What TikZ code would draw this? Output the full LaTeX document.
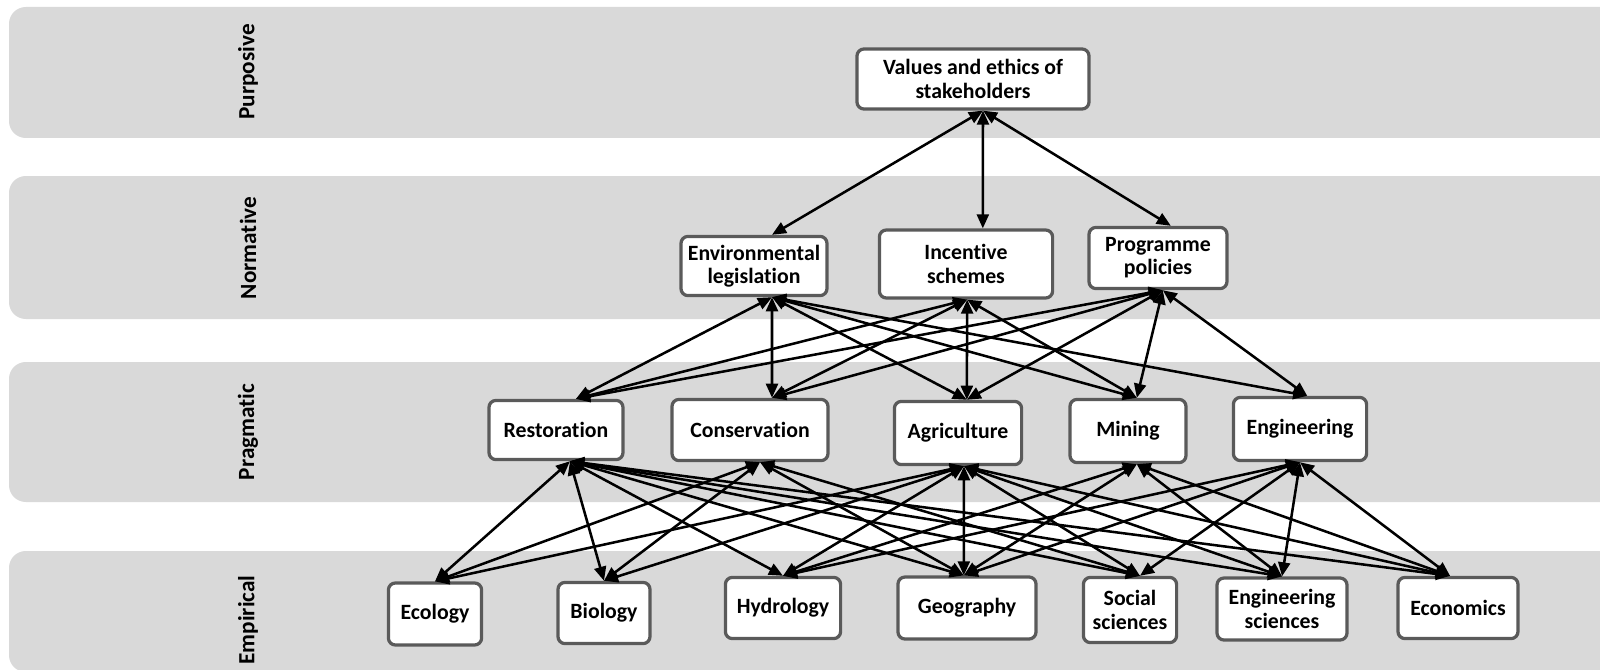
\documentclass[tikz,border=0pt]{standalone}
\usepackage{fontspec}
\setmainfont{Carlito}[Ligatures=NoCommon]
\usepackage{xcolor}
\usepackage{tikz}
\usetikzlibrary{arrows.meta,positioning}
\definecolor{bandgray}{RGB}{217,217,217}
\definecolor{boxgray}{RGB}{90,90,90}

\begin{document}
\begin{tikzpicture}[
    x=0.025cm, y=-0.025cm,
    box/.style={rectangle, draw=boxgray, line width=2.3pt, fill=white, rounded corners=5pt, align=center, inner sep=2pt, font=\fontsize{15.5}{16.5}\selectfont\bfseries},
    band/.style={fill=bandgray, rounded corners=12pt},
    level/.style={rotate=90, font=\fontsize{16.5}{17}\selectfont\bfseries},
    arrow/.style={{Triangle[length=10pt,width=8.5pt]}-{Triangle[length=10pt,width=8.5pt]}, line width=1.8pt}
]

\useasboundingbox (0,0) rectangle (1600,670);

\fill[band] (9,7) rectangle (1640,138);
\fill[band] (9,176) rectangle (1640,319);
\fill[band] (9,362) rectangle (1640,502);
\fill[band] (9,551) rectangle (1640,672);

\node[level] (purposive) at (248,72) {Purposive};
\node[level] (normative) at (248,248) {Normative};
\node[level] (pragmatic) at (248,432) {Pragmatic};
\node[level] (empirical) at (248,620) {Empirical};

\node[box, minimum width=5.8cm, minimum height=1.5cm] (values) at (973,79) {Values and ethics of\\stakeholders};

\node[box, minimum width=3.65cm, minimum height=1.48cm] (envleg) at (754,266) {Environmental\\legislation};
\node[box, minimum width=4.33cm, minimum height=1.7cm] (incent) at (966,264) {Incentive\\schemes};
\node[box, minimum width=3.45cm, minimum height=1.53cm] (progpol) at (1158,258) {Programme\\policies};

\node[box, minimum width=3.35cm, minimum height=1.48cm] (restor) at (556,430) {Restoration};
\node[box, minimum width=3.9cm, minimum height=1.53cm] (conserv) at (750,430) {Conservation};
\node[box, minimum width=3.18cm, minimum height=1.58cm] (agri) at (958,433) {Agriculture};
\node[box, minimum width=2.9cm, minimum height=1.58cm] (mining) at (1128,431) {Mining};
\node[box, minimum width=3.33cm, minimum height=1.58cm] (engin) at (1300,429) {Engineering};

\node[box, minimum width=2.33cm, minimum height=1.55cm] (ecol) at (435,614) {Ecology};
\node[box, minimum width=2.3cm, minimum height=1.53cm] (biol) at (604,613) {Biology};
\node[box, minimum width=2.88cm, minimum height=1.53cm] (hydro) at (783,608) {Hydrology};
\node[box, minimum width=3.45cm, minimum height=1.55cm] (geog) at (967,608) {Geography};
\node[box, minimum width=2.33cm, minimum height=1.63cm] (social) at (1130,610) {Social\\sciences};
\node[box, minimum width=3.25cm, minimum height=1.55cm] (engsci) at (1282,609) {Engineering\\sciences};
\node[box, minimum width=3.0cm, minimum height=1.53cm] (econ) at (1458,608) {Economics};

\coordinate (valuesS) at ([xshift=0.25cm]values.south);
\coordinate (envlegN) at ([xshift=0.45cm]envleg.north);
\coordinate (envlegS) at ([xshift=0.45cm]envleg.south);
\coordinate (incentN) at ([xshift=0.42cm]incent.north);
\coordinate (incentS) at ([xshift=0.03cm]incent.south);
\coordinate (progpolN) at ([xshift=0.32cm]progpol.north);
\coordinate (progpolS) at ([xshift=0.12cm]progpol.south);
\coordinate (restorN) at ([xshift=0.5cm]restor.north);
\coordinate (restorS) at ([xshift=0.35cm]restor.south);
\coordinate (conservN) at ([xshift=0.55cm]conserv.north);
\coordinate (conservS) at ([xshift=0.25cm]conserv.south);
\coordinate (agriN) at ([xshift=0.22cm]agri.north);
\coordinate (agriS) at ([xshift=0.15cm]agri.south);
\coordinate (miningN) at ([xshift=0.22cm]mining.north);
\coordinate (miningS) at ([xshift=0.22cm]mining.south);
\coordinate (enginN) at ([xshift=0.18cm]engin.north);
\coordinate (enginS) at (engin.south);
\coordinate (ecolN) at (ecol.north);
\coordinate (biolN) at (biol.north);
\coordinate (hydroN) at (hydro.north);
\coordinate (geogN) at ([xshift=-0.08cm]geog.north);
\coordinate (socialN) at ([xshift=0.25cm]social.north);
\coordinate (engsciN) at (engsci.north);
\coordinate (econN) at ([xshift=-0.2cm]econ.north);

\draw[arrow] (valuesS) -- (envlegN);
\draw[arrow] (valuesS) -- (incentN);
\draw[arrow] (valuesS) -- (progpolN);

\draw[arrow] (envlegS) -- (restorN);
\draw[arrow] (envlegS) -- (conservN);
\draw[arrow] (envlegS) -- (agriN);
\draw[arrow] (envlegS) -- (miningN);
\draw[arrow] (envlegS) -- (enginN);
\draw[arrow] (incentS) -- (restorN);
\draw[arrow] (incentS) -- (conservN);
\draw[arrow] (incentS) -- (agriN);
\draw[arrow] (incentS) -- (miningN);
\draw[arrow] (progpolS) -- (restorN);
\draw[arrow] (progpolS) -- (conservN);
\draw[arrow] (progpolS) -- (agriN);
\draw[arrow] (progpolS) -- (miningN);
\draw[arrow] (progpolS) -- (enginN);

\draw[arrow] (restorS) -- (ecolN);
\draw[arrow] (restorS) -- (biolN);
\draw[arrow] (restorS) -- (hydroN);
\draw[arrow] (restorS) -- (geogN);
\draw[arrow] (restorS) -- (socialN);
\draw[arrow] (restorS) -- (engsciN);
\draw[arrow] (restorS) -- (econN);
\draw[arrow] (conservS) -- (ecolN);
\draw[arrow] (conservS) -- (biolN);
\draw[arrow] (conservS) -- (geogN);
\draw[arrow] (conservS) -- (socialN);
\draw[arrow] (agriS) -- (ecolN);
\draw[arrow] (agriS) -- (biolN);
\draw[arrow] (agriS) -- (hydroN);
\draw[arrow] (agriS) -- (geogN);
\draw[arrow] (agriS) -- (socialN);
\draw[arrow] (agriS) -- (engsciN);
\draw[arrow] (agriS) -- (econN);
\draw[arrow] (miningS) -- (hydroN);
\draw[arrow] (miningS) -- (geogN);
\draw[arrow] (miningS) -- (engsciN);
\draw[arrow] (miningS) -- (econN);
\draw[arrow] (enginS) -- (hydroN);
\draw[arrow] (enginS) -- (geogN);
\draw[arrow] (enginS) -- (socialN);
\draw[arrow] (enginS) -- (engsciN);
\draw[arrow] (enginS) -- (econN);

\end{tikzpicture}
\end{document}
